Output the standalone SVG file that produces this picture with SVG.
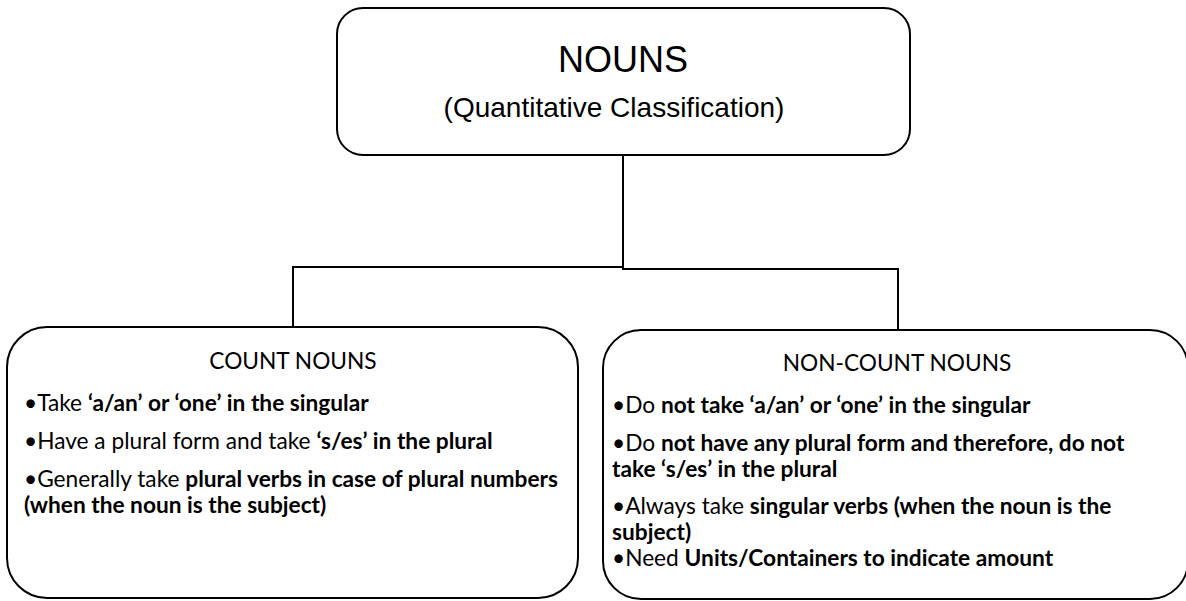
<svg xmlns="http://www.w3.org/2000/svg" width="1186" height="601" viewBox="0 0 1186 601">
<style>
.box{fill:#fff;stroke:#000;stroke-width:2}
.conn{fill:none;stroke:#000;stroke-width:2}
.ar{font-family:"Liberation Sans",Arial,sans-serif;fill:#000;text-anchor:middle}
.cb{font-family:Lato,"Open Sans",sans-serif;font-size:22.7px;fill:#000}
.hd{text-anchor:middle}
.b{font-weight:bold}
</style>
<rect width="1186" height="601" fill="#fff"/>
<g id="connectors">
<path class="conn" d="M623,155 V267 H293 V327"/>
<path class="conn" d="M623,267 V269 H898 V330"/>
</g>
<g id="nouns">
<rect class="box" x="337" y="8" width="573" height="147" rx="26"/>
<text class="ar" x="623" y="72" font-size="36">NOUNS</text>
<text class="ar" x="614" y="117" font-size="28">(Quantitative Classification)</text>
</g>
<g id="count-nouns">
<rect class="box" x="7" y="327" width="571" height="271" rx="40"/>
<text class="cb hd" x="293" y="369">COUNT NOUNS</text>
<text class="cb" x="24" y="411">•Take <tspan class="b">‘a/an’ or ‘one’ in the singular</tspan></text>
<text class="cb" x="24" y="449">•Have a plural form and take <tspan class="b">‘s/es’ in the plural</tspan></text>
<text class="cb" x="24" y="487">•Generally take <tspan class="b">plural verbs in case of plural numbers</tspan></text>
<text class="cb b" x="24" y="513">(when the noun is the subject)</text>
</g>
<g id="non-count-nouns">
<rect class="box" x="603" y="330" width="585" height="269" rx="38"/>
<text class="cb hd" x="897" y="371">NON-COUNT NOUNS</text>
<text class="cb" x="612" y="413">•Do <tspan class="b">not take ‘a/an’ or ‘one’ in the singular</tspan></text>
<text class="cb" x="612" y="451">•Do <tspan class="b">not have any plural form and therefore, do not</tspan></text>
<text class="cb b" x="612" y="477">take ‘s/es’ in the plural</text>
<text class="cb" x="612" y="514">•Always take <tspan class="b">singular verbs (when the noun is the</tspan></text>
<text class="cb b" x="612" y="540">subject)</text>
<text class="cb" x="612" y="566">•Need <tspan class="b">Units/Containers to indicate amount</tspan></text>
</g>
</svg>
